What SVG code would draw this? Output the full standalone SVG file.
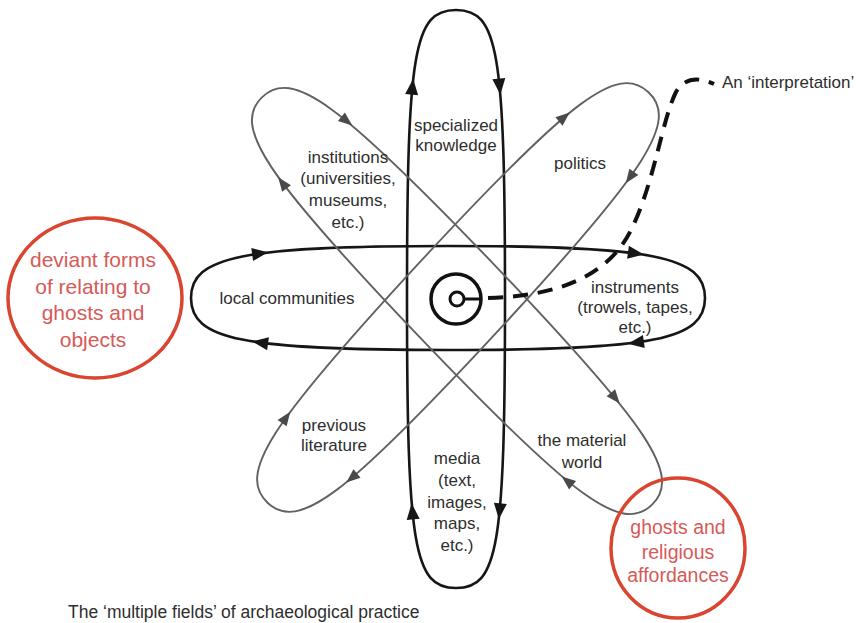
<svg xmlns="http://www.w3.org/2000/svg" xmlns:xlink="http://www.w3.org/1999/xlink" width="856" height="623" viewBox="0 0 856 623">
<style>
.blk{fill:none;stroke:#161616;stroke-width:2.6}
.gry{fill:none;stroke:#616161;stroke-width:1.9}
.ab{fill:#161616}
.ag{fill:#4a4a4a}
.lbl{font-family:"Liberation Sans",Arial,sans-serif;font-size:17px;fill:#2e2e2e;text-anchor:middle}
.red{font-family:"Liberation Sans",Arial,sans-serif;fill:#d65a57;text-anchor:middle}
.rc{fill:none;stroke:#d9452f;stroke-width:3.5}
</style>
<defs>
<polygon id="ahB" points="8,0 -8,-6.5 -8,6.5"/>
<polygon id="ahG" points="7,0 -7,-5.5 -7,5.5"/>
</defs>
<rect width="856" height="623" fill="#fff"/>
<g id="connectors">
<g id="loop-vertical" transform="translate(456,299) rotate(90)">
<path class="blk" d="M -289,0 C -289,-42.1 -248.5,-49 0,-49 C 248.5,-49 289,-42.1 289,0 C 289,42.1 248.5,49 0,49 C -248.5,49 -289,42.1 -289,0 Z"/>
<use xlink:href="#ahB" class="ab" transform="translate(-212.3,-43.6) rotate(-5.6)"/>
<use xlink:href="#ahB" class="ab" transform="translate(212.3,-43.6) rotate(5.6)"/>
<use xlink:href="#ahB" class="ab" transform="translate(212.3,43.6) rotate(174.4)"/>
<use xlink:href="#ahB" class="ab" transform="translate(-212.3,43.6) rotate(185.6)"/>
</g>
<g id="loop-horizontal" transform="translate(448,298)">
<path class="blk" d="M -257,0 C -257,-41.6 -205.6,-52 0,-52 C 205.6,-52 257,-41.6 257,0 C 257,41.6 205.6,52 0,52 C -205.6,52 -257,41.6 -257,0 Z"/>
<use xlink:href="#ahB" class="ab" transform="translate(-187.9,-44.6) rotate(-7.9)"/>
<use xlink:href="#ahB" class="ab" transform="translate(187.9,-44.6) rotate(7.9)"/>
<use xlink:href="#ahB" class="ab" transform="translate(187.9,44.6) rotate(172.1)"/>
<use xlink:href="#ahB" class="ab" transform="translate(-187.9,44.6) rotate(187.9)"/>
</g>
<g id="loop-diagA" transform="translate(457,301) rotate(46.3)">
<path class="gry" d="M -282,0 C -282,-41.6 -225.6,-52 0,-52 C 225.6,-52 282,-41.6 282,0 C 282,41.6 225.6,52 0,52 C -225.6,52 -282,41.6 -282,0 Z"/>
<use xlink:href="#ahG" class="ag" transform="translate(-206.1,-44.6) rotate(-7.2)"/>
<use xlink:href="#ahG" class="ag" transform="translate(179.6,-47.3) rotate(4.6)"/>
<use xlink:href="#ahG" class="ag" transform="translate(206.1,44.6) rotate(172.8)"/>
<use xlink:href="#ahG" class="ag" transform="translate(-206.1,44.6) rotate(187.2)"/>
</g>
<g id="loop-diagB" transform="translate(458,297.5) rotate(-47.2)">
<path class="gry" d="M -280,0 C -280,-41.6 -224,-52 0,-52 C 224,-52 280,-41.6 280,0 C 280,41.6 224,52 0,52 C -224,52 -280,41.6 -280,0 Z"/>
<use xlink:href="#ahG" class="ag" transform="translate(-204.7,-44.6) rotate(-7.3)"/>
<use xlink:href="#ahG" class="ag" transform="translate(204.7,-44.6) rotate(7.3)"/>
<use xlink:href="#ahG" class="ag" transform="translate(204.7,44.6) rotate(172.7)"/>
<use xlink:href="#ahG" class="ag" transform="translate(-204.7,44.6) rotate(187.3)"/>
</g>
<path id="interpretation-line" d="M 488,298 C 560,296 610,275 632,228 C 655,180 662,120 676,92 Q 688,72 714,84" fill="none" stroke="#111" stroke-width="4" stroke-dasharray="15,10"/>
</g>
<g id="center">
<circle cx="456" cy="299" r="25" fill="#fff" stroke="#111" stroke-width="3.5"/>
<circle cx="457" cy="299" r="7" fill="#fff" stroke="#111" stroke-width="3"/>
<line x1="464" y1="299" x2="481" y2="299" stroke="#111" stroke-width="3"/>
</g>
<g id="n-specialized"><text class="lbl" x="456" y="131">specialized</text><text class="lbl" x="456" y="151">knowledge</text></g>
<g id="n-politics"><text class="lbl" x="580" y="169">politics</text></g>
<g id="n-institutions"><text class="lbl" x="348" y="163">institutions</text><text class="lbl" x="348" y="184">(universities,</text><text class="lbl" x="348" y="206">museums,</text><text class="lbl" x="348" y="228">etc.)</text></g>
<g id="n-local"><text class="lbl" x="287" y="304">local communities</text></g>
<g id="n-instruments"><text class="lbl" x="635" y="293">instruments</text><text class="lbl" x="635" y="313">(trowels, tapes,</text><text class="lbl" x="635" y="333">etc.)</text></g>
<g id="n-previous"><text class="lbl" x="334" y="431">previous</text><text class="lbl" x="334" y="451">literature</text></g>
<g id="n-media"><text class="lbl" x="457" y="464">media</text><text class="lbl" x="457" y="486">(text,</text><text class="lbl" x="457" y="508">images,</text><text class="lbl" x="457" y="529">maps,</text><text class="lbl" x="457" y="551">etc.)</text></g>
<g id="n-material"><text class="lbl" x="582" y="446">the material</text><text class="lbl" x="582" y="468">world</text></g>
<g id="n-interpretation"><text class="lbl" x="722" y="88" style="text-anchor:start">An ‘interpretation’</text></g>
<g id="n-deviant">
<ellipse class="rc" cx="95" cy="298" rx="87" ry="80"/>
<text class="red" x="93" y="267" font-size="21">deviant forms</text>
<text class="red" x="93" y="294" font-size="21">of relating to</text>
<text class="red" x="93" y="320" font-size="21">ghosts and</text>
<text class="red" x="93" y="347" font-size="21">objects</text>
</g>
<g id="n-ghosts">
<ellipse class="rc" cx="678" cy="548" rx="67" ry="70"/>
<text class="red" x="678" y="534" font-size="19.5">ghosts and</text>
<text class="red" x="678" y="559" font-size="19.5">religious</text>
<text class="red" x="678" y="582" font-size="19.5">affordances</text>
</g>
<g id="caption"><text class="lbl" x="68" y="618" style="text-anchor:start;font-size:17.5px">The ‘multiple fields’ of archaeological practice</text></g>
</svg>
